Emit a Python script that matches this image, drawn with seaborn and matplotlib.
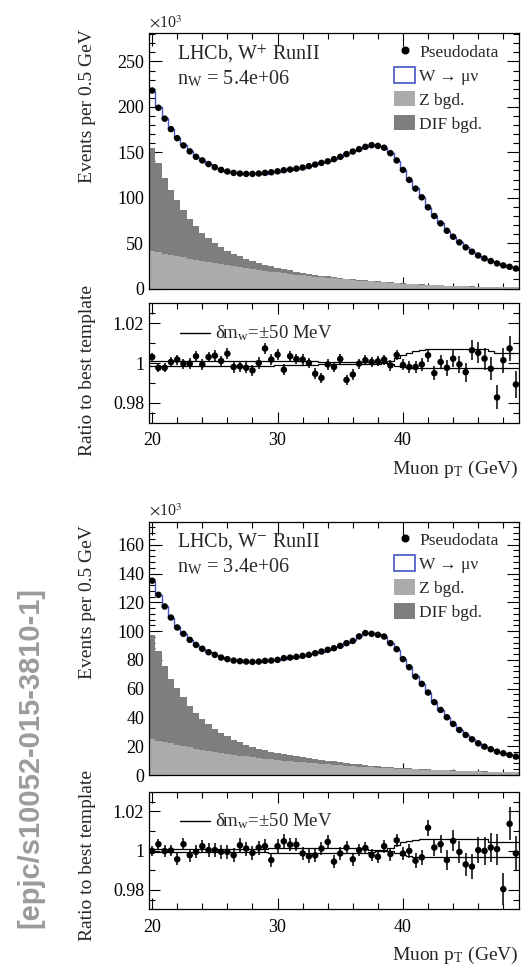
import numpy as np
import pandas as pd
import matplotlib
matplotlib.use("Agg")
import matplotlib.pyplot as plt
import seaborn as sns
from matplotlib.ticker import MultipleLocator, FixedLocator, FuncFormatter
from matplotlib.lines import Line2D
from matplotlib.patches import Patch

# ---------------- data (bins of 0.5 GeV, centres 20.0 ... 49.0) ----------------
bin_edges = np.arange(19.75, 49.251, 0.5)
pt_centres = 0.5 * (bin_edges[:-1] + bin_edges[1:])

# W+ panel (x 10^3 events)
wplus_data = [218, 199, 187, 175.5, 165.5, 157.5, 151, 145, 141, 137,
              133.5, 130.6, 128.8, 127.3, 126.6, 126.2, 126.2, 126.6, 127.3, 128,
              129, 130.2, 131, 132, 133.2, 134.7, 136.5, 138.3, 140, 142.4,
              145, 148, 150.8, 153.4, 156, 157.8, 157, 155, 149, 141,
              130.6, 119.6, 110, 100.4, 89.4, 79.8, 71.7, 63.6, 57, 50.8,
              45.3, 40.5, 36.4, 33.1, 30.2, 27.6, 25.4, 23.9, 22]
wplus_z = [41.5, 40.0, 38.5, 37.0, 35.6, 34.2, 32.9, 31.6, 30.3, 29.1,
           27.9, 26.7, 25.6, 24.5, 23.4, 22.4, 21.4, 20.4, 19.5, 18.6,
           17.7, 16.8, 16.0, 15.2, 14.5, 13.8, 13.1, 12.4, 11.8, 11.2,
           10.6, 10.0, 9.4, 8.8, 8.3, 7.8, 7.3, 6.8, 6.3, 5.9,
           5.5, 5.1, 4.7, 4.3, 4.0, 3.7, 3.4, 3.1, 2.8, 2.6,
           2.4, 2.2, 2.0, 1.8, 1.7, 1.5, 1.4, 1.3, 1.2]
wplus_dif = [113, 98, 83.5, 71, 62, 52, 43.6, 37, 30.7, 26,
             22, 18.8, 16.2, 13.8, 11.9, 10.2, 8.9, 7.8, 6.8, 5.9,
             5.2, 4.6, 4.0, 3.5, 3.0, 2.6, 2.2, 1.9, 1.6, 1.3,
             1.1, 0.9, 0.8, 0.7, 0.6, 0.5, 0.45, 0.4, 0.35, 0.3,
             0.3, 0.25, 0.25, 0.2, 0.2, 0.2, 0.15, 0.15, 0.15, 0.1,
             0.1, 0.1, 0.1, 0.1, 0.1, 0.1, 0.1, 0.1, 0.1]
wplus_ratio = [1.003, 0.9976, 0.9976, 1.0005, 1.0017, 0.9997, 0.9997, 1.0034, 0.9993, 1.003,
               1.0037, 1.001, 1.0047, 0.998, 0.9983, 0.9976, 0.9963, 1.0, 1.0073, 1.0017,
               1.0042, 0.9966, 1.0034, 1.002, 1.0017, 1.0, 0.9946, 0.9925, 0.9993, 0.998,
               1.002, 0.9915, 0.9942, 0.9997, 1.0014, 1.0005, 1.0008, 1.0017, 0.9988, 1.004,
               0.999, 0.998, 0.998, 0.9993, 1.0039, 0.9949, 1.0005, 0.9976, 1.0022, 0.9993,
               0.9954, 1.0064, 1.0051, 1.0022, 0.9971, 0.9827, 1.0014, 1.0073, 0.9892]
wplus_shift_up = [0.9985, 0.9985, 0.9985, 0.9985, 0.9985, 0.9985, 0.9985, 0.9985, 0.9985, 0.9985,
                  0.9985, 0.9985, 0.9985, 0.9985, 0.9985, 0.9985, 0.9985, 0.9985, 0.9985, 0.9985,
                  0.9992, 0.9992, 0.9992, 0.9992, 0.9992, 0.9992, 0.9992, 0.9996, 0.9996, 0.9996,
                  0.9996, 0.9996, 0.9996, 0.9996, 0.9996, 0.9996, 0.9996, 1.0003, 1.0012, 1.0025,
                  1.0038, 1.005, 1.0058, 1.0063, 1.0068, 1.0068, 1.0068, 1.0068, 1.0068, 1.0068,
                  1.0068, 1.0068, 1.0068, 1.0068, 1.006, 1.0048, 1.0048, 1.0048, 1.0048]
wplus_shift_down = [1.0008, 1.0008, 1.0008, 1.0008, 1.0008, 1.0008, 1.0008, 1.0008, 1.0008, 1.0008,
                    1.0008, 1.0008, 1.0008, 1.0008, 1.0008, 1.0008, 1.0008, 1.0008, 1.0008, 1.0008,
                    1.0008, 1.0008, 1.0008, 1.0008, 1.0008, 1.0008, 1.0008, 1.0004, 1.0004, 1.0004,
                    1.0004, 1.0004, 1.0004, 1.0004, 1.0004, 1.0004, 1.0004, 1.0, 0.9993, 0.9986,
                    0.998, 0.9977, 0.9977, 0.9977, 0.9977, 0.9977, 0.9977, 0.9977, 0.9977, 0.9977,
                    0.9977, 0.9977, 0.9977, 0.9977, 0.9977, 0.9977, 0.9977, 0.9977, 0.9977]

# W- panel (x 10^3 events)
wminus_data = [135, 125.2, 117.1, 109.4, 102.5, 98.1, 93.9, 90.4, 87.7, 85.3,
               83.5, 81.6, 80.5, 79.5, 79.1, 78.8, 78.6, 78.8, 79.3, 79.5,
               80, 81.2, 81.6, 82.1, 82.8, 83.5, 84.6, 85.8, 87, 88.1,
               89.7, 91.6, 93.2, 96.3, 98.6, 98.1, 97.4, 96.2, 91.6, 87.4,
               80.5, 74.9, 68.4, 63.3, 57.3, 50.6, 45.2, 40.1, 35.5, 31.3,
               27.8, 24.8, 22, 19.7, 17.9, 16.2, 15.1, 13.9, 12.8]
wminus_z = [25, 23.9, 22.9, 21.9, 21.0, 20.1, 19.2, 18.4, 17.6, 16.8,
            16.1, 15.4, 14.7, 14.1, 13.5, 12.9, 12.4, 11.8, 11.3, 10.8,
            10.4, 9.9, 9.5, 9.1, 8.7, 8.3, 8.0, 7.6, 7.3, 7.0,
            6.7, 6.4, 6.1, 5.9, 5.6, 5.4, 5.1, 4.9, 4.7, 4.5,
            4.3, 4.1, 3.9, 3.8, 3.6, 3.5, 3.3, 3.2, 3.0, 2.9,
            2.8, 2.7, 2.5, 2.4, 2.3, 2.2, 2.1, 2.0, 1.9]
wminus_dif = [72.4, 62.1, 52.6, 45.1, 39.3, 33.9, 28.8, 24.6, 21.2, 18.4,
              15.9, 13.8, 12.1, 10.5, 9.1, 8.1, 7.2, 6.5, 5.9, 5.4,
              4.9, 4.5, 4.1, 3.8, 3.5, 3.3, 3.0, 2.8, 2.6, 2.4,
              2.2, 2.0, 1.8, 1.6, 1.4, 1.2, 1.0, 0.9, 0.8, 0.7,
              0.6, 0.5, 0.45, 0.4, 0.35, 0.3, 0.3, 0.25, 0.25, 0.2,
              0.2, 0.15, 0.15, 0.15, 0.1, 0.1, 0.1, 0.1, 0.1]
wminus_ratio = [0.9997, 1.0032, 0.9997, 1.0, 0.9955, 1.0032, 0.9976, 0.9993, 1.0022, 1.0002,
                1.0002, 0.9993, 0.9993, 0.9976, 1.0027, 1.001, 0.9988, 1.0015, 1.0022, 0.9951,
                1.0022, 1.0047, 1.003, 1.003, 0.9985, 0.9971, 0.9975, 1.001, 1.0044, 0.9943,
                0.9985, 1.0015, 0.9955, 1.0002, 1.0013, 0.9976, 0.9968, 1.0022, 0.9982, 1.0052,
                0.9985, 0.9998, 0.9948, 0.9965, 1.0116, 1.0015, 1.0032, 0.9951, 1.0049, 0.9993,
                0.9929, 0.9918, 1.0002, 0.9998, 1.0015, 1.0007, 0.9803, 1.0136, 0.9985]
wminus_shift_up = [0.999, 0.999, 0.999, 0.999, 0.999, 0.999, 0.999, 0.999, 0.999, 0.999,
                   0.999, 0.999, 0.999, 0.999, 0.999, 0.999, 0.999, 0.999, 0.999, 0.9988,
                   0.9988, 0.9988, 0.9988, 0.9988, 0.9988, 0.9988, 0.9988, 0.9988, 0.9988, 0.9988,
                   0.9988, 0.9988, 0.9988, 0.9988, 0.9988, 0.9992, 0.9995, 1.0005, 1.0015, 1.003,
                   1.0042, 1.005, 1.0055, 1.006, 1.006, 1.006, 1.006, 1.006, 1.006, 1.006,
                   1.006, 1.006, 1.006, 1.006, 1.0044, 1.0044, 1.0044, 1.0044, 1.0044]
wminus_shift_down = [1.0007, 1.0007, 1.0007, 1.0007, 1.0007, 1.0007, 1.0007, 1.0007, 1.0007, 1.0007,
                     1.0007, 1.0007, 1.0007, 1.0007, 1.0007, 1.0007, 1.0007, 1.0007, 1.0007, 1.0012,
                     1.0012, 1.0012, 1.0012, 1.0012, 1.0012, 1.0012, 1.0012, 1.0012, 1.0012, 1.0012,
                     1.0012, 1.0012, 1.0012, 1.0012, 1.0008, 1.0005, 1.0003, 1.0, 0.9995, 0.9985,
                     0.9975, 0.997, 0.9965, 0.9965, 0.9965, 0.9965, 0.9965, 0.9965, 0.9965, 0.9965,
                     0.9965, 0.9965, 0.9965, 0.9965, 0.9965, 0.9965, 0.9965, 0.9965, 0.9965]

panels = [
    dict(title=r"LHCb, W$^{+}$ RunII", nw=r"n$_\mathregular{W}$ = 5.4e+06",
         data=wplus_data, z=wplus_z, dif=wplus_dif, ratio=wplus_ratio,
         up=wplus_shift_up, down=wplus_shift_down,
         ylim=281, ymaj=50, ymin=10),
    dict(title=r"LHCb, W$^{-}$ RunII", nw=r"n$_\mathregular{W}$ = 3.4e+06",
         data=wminus_data, z=wminus_z, dif=wminus_dif, ratio=wminus_ratio,
         up=wminus_shift_up, down=wminus_shift_down,
         ylim=176, ymaj=20, ymin=4),
]
for p in panels:
    for k in ("data", "z", "dif", "ratio", "up", "down"):
        assert len(p[k]) == len(pt_centres), (k, len(p[k]))

# ---------------- style ----------------
sns.set_theme(style="ticks")
plt.rcParams["font.family"] = ["Liberation Serif", "DejaVu Serif"]
plt.rcParams["mathtext.fontset"] = "stix"
plt.rcParams["axes.edgecolor"] = "black"
plt.rcParams["axes.linewidth"] = 0.9
plt.rcParams["xtick.color"] = "black"
plt.rcParams["ytick.color"] = "black"

Z_COL = "#ababab"
DIF_COL = "#7e7e7e"
BLUE = "#4454c4"

W, H = 531, 967
fig = plt.figure(figsize=(W / 100, H / 100), dpi=100)

left = 149 / W
width = 370 / W
layouts = [
    ((33.3, 288.5), (303.3, 422.7)),
    ((521.7, 775.0), (791.7, 909.3)),
]
ylab_pos = [(0.713, 0.441), (0.684, 0.46)]
bins_list = [float(b) for b in bin_edges]


def style_ticks(ax, maj_len=8, min_len=4):
    ax.tick_params(which="both", direction="in", top=True, right=True,
                   width=0.8, labelsize=13, colors="black")
    ax.tick_params(which="major", length=maj_len)
    ax.tick_params(which="minor", length=min_len)
    ax.xaxis.set_major_locator(MultipleLocator(10))
    ax.xaxis.set_minor_locator(MultipleLocator(2))
    ax.set_xlim(bin_edges[0], bin_edges[-1])


for idx, (p, ((t1, b1), (t2, b2))) in enumerate(zip(panels, layouts)):
    ax = fig.add_axes([left, 1 - b1 / H, width, (b1 - t1) / H])
    axr = fig.add_axes([left, 1 - b2 / H, width, (b2 - t2) / H])

    data = np.array(p["data"], dtype=float)
    ratio = np.array(p["ratio"], dtype=float)
    z = np.array(p["z"], dtype=float)
    dif = np.array(p["dif"], dtype=float)
    df = pd.DataFrame({"pt": pt_centres, "stack": z + dif, "z": z,
                       "template": data / ratio, "data": data, "ratio": ratio})

    # stacked backgrounds
    sns.histplot(data=df, x="pt", weights="stack", bins=bins_list, element="step",
                 fill=True, color=DIF_COL, alpha=1, linewidth=0, ax=ax)
    sns.histplot(data=df, x="pt", weights="z", bins=bins_list, element="step",
                 fill=True, color=Z_COL, alpha=1, linewidth=0, ax=ax)
    # W template outline
    sns.histplot(data=df, x="pt", weights="template", bins=bins_list, element="step",
                 fill=False, color=BLUE, linewidth=1.0, ax=ax)
    # pseudodata
    sns.scatterplot(data=df, x="pt", y="data", color="black", s=22, edgecolor="none",
                    ax=ax, zorder=5, legend=False)

    ax.set_ylim(0, p["ylim"])
    ax.yaxis.set_major_locator(MultipleLocator(p["ymaj"]))
    ax.yaxis.set_minor_locator(MultipleLocator(p["ymin"]))
    style_ticks(ax, maj_len=9, min_len=4.5)
    ax.tick_params(labelbottom=False)
    ax.set_xlabel("")
    ax.set_ylabel("Events per 0.5 GeV", fontsize=14)
    ax.yaxis.set_label_coords(-0.143, ylab_pos[idx][0])

    ax.text(0.0, 1.008, r"$\times$10$^{3}$", transform=ax.transAxes,
            fontsize=11.5, ha="left", va="bottom")
    ax.text(0.076, 0.92, p["title"], transform=ax.transAxes, fontsize=14.5,
            ha="left", va="center")
    ax.text(0.076, 0.823, p["nw"], transform=ax.transAxes, fontsize=14.5,
            ha="left", va="center")

    handles = [
        Line2D([0], [0], marker="o", color="black", linestyle="none", markersize=4.8),
        Patch(facecolor="white", edgecolor=BLUE, linewidth=1.2),
        Patch(facecolor=Z_COL, edgecolor="none"),
        Patch(facecolor=DIF_COL, edgecolor="none"),
    ]
    labels = ["Pseudodata", "W → μν", "Z bgd.", "DIF bgd."]
    ax.legend(handles, labels, loc="upper right", bbox_to_anchor=(0.945, 0.962),
              frameon=False, fontsize=12.5, handlelength=1.2, handleheight=1.0,
              handletextpad=0.25, labelspacing=0.36, borderpad=0, borderaxespad=0)

    # ratio panel
    err = 1.0 / np.sqrt(data * 1e3)
    axr.stairs(p["up"], bin_edges, color="black", linewidth=0.9, baseline=None)
    axr.stairs(p["down"], bin_edges, color="black", linewidth=0.9, baseline=None)
    axr.errorbar(pt_centres, ratio, yerr=err, fmt="none", ecolor="black",
                 elinewidth=1.1, capsize=0, zorder=4)
    sns.scatterplot(data=df, x="pt", y="ratio", color="black", s=22, edgecolor="none",
                    ax=axr, zorder=5, legend=False)
    axr.set_ylim(0.97, 1.03)
    axr.yaxis.set_major_locator(FixedLocator([0.98, 1.0, 1.02]))
    axr.yaxis.set_major_formatter(FuncFormatter(lambda v, _: f"{v:g}"))
    axr.yaxis.set_minor_locator(FixedLocator([0.975, 0.99, 1.01, 1.025]))
    style_ticks(axr, maj_len=8, min_len=4)
    axr.tick_params(axis="x", pad=7)
    axr.set_ylabel("Ratio to best template", fontsize=14)
    axr.yaxis.set_label_coords(-0.143, ylab_pos[idx][1])
    axr.set_xlabel(r"Muon p$_\mathregular{T}$ (GeV)", fontsize=14, ha="right")
    axr.xaxis.set_label_coords(1.0, -0.30)

    axr.plot([0.084, 0.165], [0.75, 0.75], transform=axr.transAxes,
             color="black", linewidth=1.0)
    axr.text(0.178, 0.75, r"δm$_\mathregular{w}$=±50 MeV", transform=axr.transAxes,
             fontsize=13.5, ha="left", va="center")

fig.text(30 / W, 1 - 757 / H, "[epjc/s10052-015-3810-1]", rotation=90,
         ha="center", va="center", fontsize=21, fontweight="bold",
         color="#9b9b9b", family=["Liberation Sans", "DejaVu Sans"])

fig.savefig("out.png", dpi=100)
